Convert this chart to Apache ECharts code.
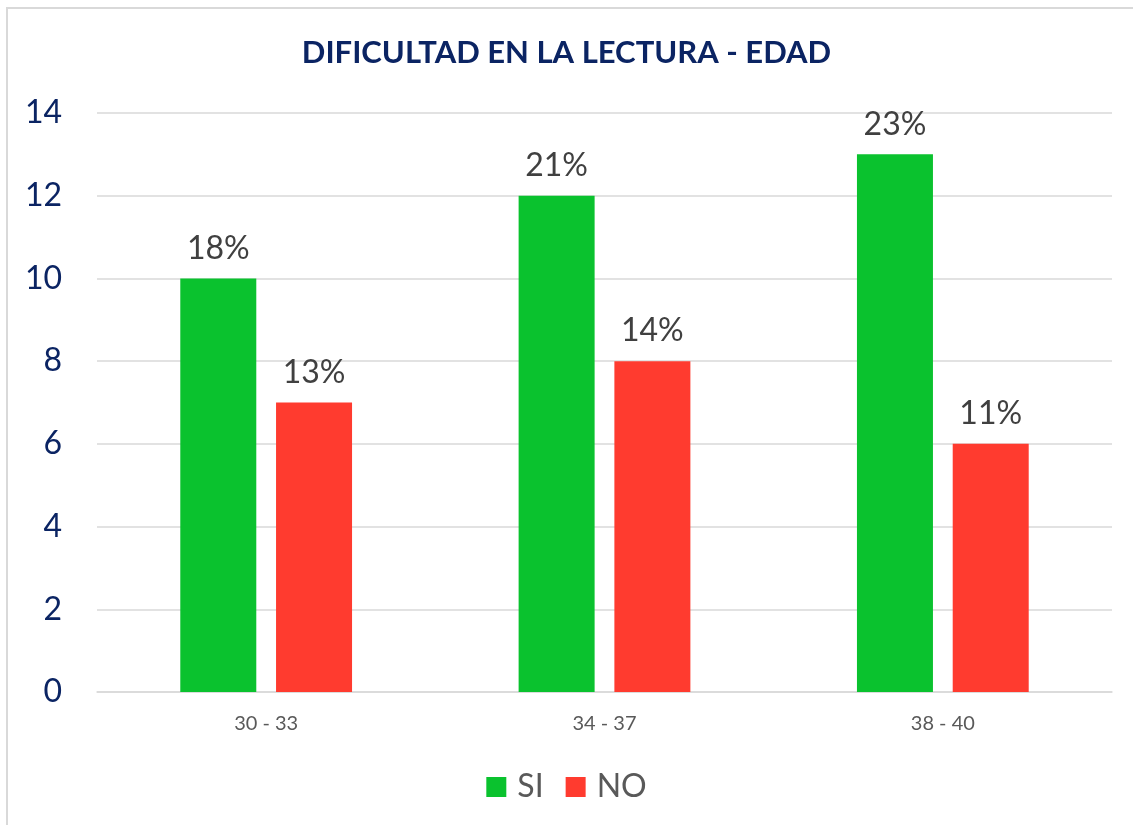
<!DOCTYPE html>
<html><head><meta charset="utf-8">
<script src="https://cdn.jsdelivr.net/npm/echarts@6/dist/echarts.min.js"></script>
<style>
html,body{margin:0;padding:0;background:#fff;overflow:hidden}
#frame{position:absolute;left:6px;top:7px;width:1200px;height:900px;border-left:2px solid #d9d9d9;border-top:2px solid #d9d9d9}
#chart{position:absolute;left:0;top:0;width:1133px;height:825px}
</style></head>
<body>
<div id="frame"></div>
<div id="chart"></div>
<script>
const categories = ['30 - 33', '34 - 37', '38 - 40'];
const siValues = [10, 12, 13];
const noValues = [7, 8, 6];
const siLabels = ['18%', '21%', '23%'];
const noLabels = ['13%', '14%', '11%'];
const yTicks = [0, 2, 4, 6, 8, 10, 12, 14];

const FONT = 'Lato, "Open Sans", sans-serif';
const chart = echarts.init(document.getElementById('chart'));
chart.setOption({
  backgroundColor: 'transparent',
  animation: false,
  textStyle: { fontFamily: FONT },
  title: {
    text: 'DIFICULTAD EN LA LECTURA - EDAD',
    left: 'center', top: 32,
    textStyle: { color: '#0b2463', fontSize: 31, fontWeight: 'bold', fontFamily: FONT }
  },
  legend: {
    bottom: 17, left: 'center',
    icon: 'rect', itemWidth: 20, itemHeight: 20, itemGap: 22,
    textStyle: { color: '#595959', fontSize: 32, fontFamily: FONT, padding: [0, 0, 0, 6] },
    data: ['SI', 'NO']
  },
  grid: { left: 97, right: 21, top: 113, bottom: 133, containLabel: false },
  xAxis: {
    type: 'category', data: categories,
    axisLine: { lineStyle: { color: '#d9d9d9', width: 1.5 } },
    axisTick: { show: false },
    axisLabel: { color: '#595959', fontSize: 20, margin: 22, fontFamily: FONT }
  },
  yAxis: {
    type: 'value', min: yTicks[0], max: yTicks[yTicks.length - 1], interval: 2,
    axisLine: { show: false }, axisTick: { show: false },
    splitLine: { lineStyle: { color: '#d9d9d9', width: 1.5 } },
    axisLabel: { color: '#0b2463', fontSize: 32, margin: 35, fontFamily: FONT }
  },
  series: [
    {
      name: 'SI', type: 'bar', data: siValues, barWidth: 76, barGap: '26%',
      itemStyle: { color: '#0ac22e' },
      label: { show: true, position: 'top', distance: 14, color: '#404040', fontSize: 32, fontFamily: FONT,
        formatter: p => siLabels[p.dataIndex] }
    },
    {
      name: 'NO', type: 'bar', data: noValues, barWidth: 76,
      itemStyle: { color: '#ff3b2f' },
      label: { show: true, position: 'top', distance: 14, color: '#404040', fontSize: 32, fontFamily: FONT,
        formatter: p => noLabels[p.dataIndex] }
    }
  ]
});
</script>
</body></html>
